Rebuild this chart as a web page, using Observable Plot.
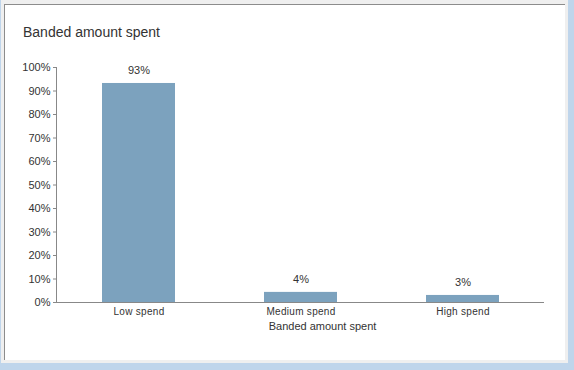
<!DOCTYPE html>
<html>
<head>
<meta charset="utf-8">
<script src="https://cdn.jsdelivr.net/npm/d3@7"></script>
<script src="https://cdn.jsdelivr.net/npm/@observablehq/plot@0.6"></script>
<style>
  html, body { margin: 0; padding: 0; }
  body { width: 574px; height: 370px; background: #bfd5eb; position: relative; overflow: hidden;
         font-family: "Liberation Sans", Arial, sans-serif; }
  #outer { position: absolute; left: 1px; top: 0; width: 567px; height: 363px; background: #efefef; }
  #panel { position: absolute; left: 4px; top: 4px; width: 561px; height: 356px; background: #fff;
           border-top: 1px solid #8c8c8c; border-left: 1px solid #8c8c8c; box-sizing: border-box; }
  #title { position: absolute; left: 23px; top: 24px; font-size: 14px; color: #333; white-space: nowrap; }
  #chart { position: absolute; left: 0; top: 50px; }
</style>
</head>
<body>
<div id="outer"></div>
<div id="panel"></div>
<div id="title">Banded amount spent</div>
<div id="chart"></div>
<script>
const categories = ["Low spend", "Medium spend", "High spend"];
const values = [93.2, 4.3, 3.0];
const valueLabels = ["93%", "4%", "3%"];
const yTicks = [0, 10, 20, 30, 40, 50, 60, 70, 80, 90, 100];
const xTitle = "Banded amount spent";

const data = categories.map((c, i) => ({category: c, value: values[i], label: valueLabels[i]}));

const chart = Plot.plot({
  width: 574,
  height: 300,
  marginLeft: 56,
  marginRight: 30,
  marginTop: 17,
  marginBottom: 48,
  style: {background: "transparent", fontFamily: "'Liberation Sans', Arial, sans-serif", color: "#333"},
  x: {domain: categories, paddingInner: 0.55, paddingOuter: 0.275, label: null},
  y: {domain: [0, 100], label: null},
  marks: [
    Plot.barY(data, {x: "category", y: "value", fill: "#7ca2be"}),
    Plot.text(data, {x: "category", y: "value", text: "label", dy: -13, fontSize: 11, fill: "#333"}),
    Plot.axisY({ticks: yTicks, tickFormat: d => d + "%", tickSize: 3, tickPadding: 3, stroke: "#888",
                fontSize: 11, fill: "#333", label: null}),
    Plot.axisX({tickSize: 0, tickPadding: 5, fontSize: 10, fill: "#333", label: null}),
    Plot.frame({anchor: "left", stroke: "#888"}),
    Plot.ruleY([0], {stroke: "#888"}),
    Plot.text([xTitle], {frameAnchor: "bottom", dx: 22, dy: 27, fontSize: 11, fill: "#333"})
  ]
});
chart.querySelectorAll("g[aria-label='x-axis tick label'] text").forEach(t => t.setAttribute("letter-spacing", "0.3"));
document.getElementById("chart").appendChild(chart);
</script>
</body>
</html>
